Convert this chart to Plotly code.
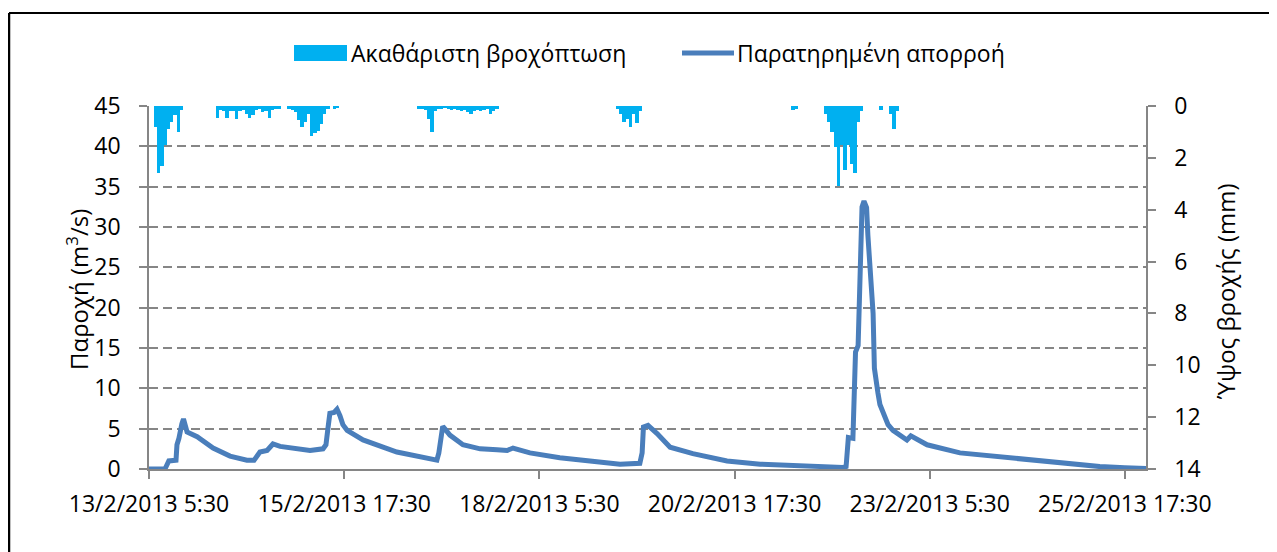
import pandas as pd
import plotly.graph_objects as go

# ---- data (hours after 13/2/2013 5:30) ----
START = pd.Timestamp("2013-02-13 05:30")
END_HOURS = 306.5

flow_hours = [0, 4.9, 5.5, 6.1, 8.3, 8.6, 9.2, 9.5, 10.1, 10.6, 11.1, 11.7, 14.8, 19.7, 24.9,
              30.1, 32.3, 34.1, 36.3, 38.1, 40.3, 44.3, 46.4, 49.5, 53.5, 54.4, 55.0, 55.6,
              56.9, 57.8, 58.7, 59.6, 60.9, 65.8, 76.2, 86.4, 88.5, 89.1, 89.7, 90.3, 90.9,
              92.5, 96.5, 101.8, 107.0, 110.1, 111.9, 117.1, 126.3, 135.6, 144.8, 150.9,
              151.6, 152.0, 153.4, 156.2, 160.2, 167.2, 177.7, 187.9, 198.0, 213.3, 214.3,
              214.6, 215.0, 216.4, 216.7, 217.2, 218.0, 218.6, 219.2, 219.8, 220.6, 221.0,
              221.6, 222.6, 223.0, 223.5, 224.1, 224.7, 225.7, 227.2, 228.7, 230.9, 233.0,
              234.2, 235.8, 239.2, 249.3, 261.6, 277.0, 292.3, 300.0, 306.5]
flow_values = [0, 0, 0.5, 1.0, 1.1, 3.0, 3.8, 4.8, 5.6, 6.2, 5.5, 4.6, 4.0, 2.6, 1.6,
               1.1, 1.1, 2.1, 2.3, 3.1, 2.8, 2.6, 2.5, 2.3, 2.5, 3.0, 5.0, 6.9,
               7.0, 7.4, 6.6, 5.5, 4.8, 3.6, 2.1, 1.2, 1.1, 2.0, 3.5, 5.3, 5.0,
               4.2, 3.0, 2.5, 2.4, 2.3, 2.6, 2.0, 1.4, 1.0, 0.6, 0.7,
               2.0, 5.2, 5.4, 4.4, 2.7, 1.9, 1.0, 0.6, 0.4, 0.2, 0.3,
               3.0, 3.9, 3.8, 8.0, 14.5, 15.3, 25.0, 32.5, 33.2, 32.4, 29.0,
               25.5, 19.3, 12.5, 10.5, 9.4, 8.0, 6.9, 5.5, 4.8, 4.2, 3.6,
               4.1, 3.8, 3.0, 2.0, 1.5, 0.8, 0.3, 0.15, 0.05]

rain_hours = [2, 3, 4, 5, 6, 7, 8, 9, 10,
              21, 22, 23, 24, 25, 26, 27, 28, 29, 30, 31, 32, 33, 34, 35, 36, 37, 38, 39, 40,
              43, 44, 45, 46, 47, 48, 49, 50, 51, 52, 53, 54, 55, 57, 58,
              83, 84, 85, 86, 87, 88, 89, 90, 91, 92, 93, 94, 95, 96, 97, 98, 99, 100,
              101, 102, 103, 104, 105, 106, 107,
              144, 145, 146, 147, 148, 149, 150, 151,
              198, 199,
              208, 209, 210, 211, 212, 213, 214, 215, 216, 217, 218, 219,
              225, 228, 229, 230]
rain_mm = [0.8, 2.6, 2.3, 1.5, 0.9, 0.6, 0.35, 1.0, 0.15,
           0.45, 0.15, 0.2, 0.45, 0.2, 0.2, 0.5, 0.2, 0.15, 0.3, 0.45, 0.35, 0.15, 0.1, 0.25,
           0.2, 0.45, 0.15, 0.1, 0.1,
           0.1, 0.15, 0.25, 0.55, 0.8, 0.6, 0.3, 1.15, 1.05, 0.95, 0.7, 0.3, 0.1, 0.1, 0.05,
           0.1, 0.1, 0.15, 0.5, 1.0, 0.2, 0.1, 0.1, 0.05, 0.1, 0.15, 0.1, 0.15, 0.2, 0.15,
           0.25, 0.3, 0.2, 0.15, 0.2, 0.15, 0.1, 0.3, 0.2, 0.1,
           0.1, 0.3, 0.6, 0.5, 0.8, 0.3, 0.65, 0.2,
           0.15, 0.1,
           0.3, 0.6, 1.0, 1.6, 3.1, 1.5, 2.45, 1.5, 2.25, 2.6, 0.6, 0.2,
           0.15, 0.3, 0.9, 0.2]

tick_hours = [0, 60, 120, 180, 240, 300]
tick_labels = ["13/2/2013 5:30", "15/2/2013 17:30", "18/2/2013 5:30",
               "20/2/2013 17:30", "23/2/2013 5:30", "25/2/2013 17:30"]

rain_name = "Ακαθάριστη βροχόπτωση"
flow_name = "Παρατηρημένη απορροή"
y_title = "Παροχή (m<sup>3</sup>/s)"
y2_title = "Ύψος βροχής (mm)"

# ---- figure ----
def to_time(h):
    return [START + pd.Timedelta(hours=v) for v in h]

FONT = "Open Sans, Noto Sans, sans-serif"
FS = 23
GRID = "#868686"
RAIN_C = "#00B0F0"
FLOW_C = "#4A7EBB"

fig = go.Figure()
fig.add_trace(go.Scatter(x=to_time(flow_hours), y=flow_values, mode="lines", name=flow_name,
                         line=dict(color=FLOW_C, width=5), yaxis="y", showlegend=False))
fig.add_trace(go.Bar(x=to_time(rain_hours), y=rain_mm, name=rain_name, yaxis="y2",
                     width=3600 * 1000, marker=dict(color=RAIN_C, line=dict(width=0)),
                     showlegend=False))

# page-pixel layout (page body has an 8px offset)
OFF = 8
L, R, T, B = 149, 1146, 106, 469
W, H = 1277 - OFF, 552 - OFF
pw, ph = R - L, B - T

def px(x):
    return (x - L) / pw

def py(y):
    return (B - y) / ph

fig.update_layout(
    width=W, height=H,
    margin=dict(l=L - OFF, r=W - (R - OFF), t=T - OFF, b=H - (B - OFF), autoexpand=False),
    paper_bgcolor="white", plot_bgcolor="white",
    font=dict(family=FONT, size=FS, color="black"),
    bargap=0,
    xaxis=dict(type="date", range=[START, START + pd.Timedelta(hours=END_HOURS)],
               tickvals=to_time(tick_hours), ticktext=tick_labels,
               showline=True, linecolor=GRID, linewidth=1.5,
               ticks="outside", ticklen=8, tickcolor=GRID, tickwidth=1.5,
               showgrid=False, zeroline=False, ticklabelstandoff=6),
    yaxis=dict(range=[0, 45], dtick=5, tick0=0,
               showline=True, linecolor=GRID, linewidth=1.5,
               ticks="outside", ticklen=8, tickcolor=GRID, tickwidth=1.5,
               showgrid=True, gridcolor=GRID, gridwidth=1.5, griddash="9px,5px",
               zeroline=False, ticklabelstandoff=14),
    yaxis2=dict(range=[14, 0], dtick=2, tick0=0, overlaying="y", side="right",
                showline=True, linecolor=GRID, linewidth=1.5,
                ticks="outside", ticklen=8, tickcolor=GRID, tickwidth=1.5,
                showgrid=False, zeroline=False, ticklabelstandoff=14),
)

# axis titles
fig.add_annotation(text=y_title, xref="paper", yref="paper", x=px(77), y=py(290),
                   textangle=-90, showarrow=False, xanchor="center", yanchor="middle",
                   font=dict(size=24))
fig.add_annotation(text=y2_title, xref="paper", yref="paper", x=px(1225), y=py(292),
                   textangle=-90, showarrow=False, xanchor="center", yanchor="middle",
                   font=dict(size=24))

# legend (drawn)
fig.add_shape(type="rect", xref="paper", yref="paper", x0=px(294), x1=px(347),
              y0=py(61), y1=py(45), fillcolor=RAIN_C, line=dict(width=0))
fig.add_annotation(text=rain_name, xref="paper", yref="paper", x=px(349), y=py(53),
                   xanchor="left", yanchor="middle", showarrow=False)
fig.add_shape(type="line", xref="paper", yref="paper", x0=px(682), x1=px(734),
              y0=py(53), y1=py(53), line=dict(color=FLOW_C, width=5))
fig.add_annotation(text=flow_name, xref="paper", yref="paper", x=px(735), y=py(53),
                   xanchor="left", yanchor="middle", showarrow=False)

# chart frame (partial border)
fig.add_shape(type="line", xref="paper", yref="paper", x0=px(9), x1=px(1273),
              y0=py(13), y1=py(13), line=dict(color="black", width=2))
fig.add_shape(type="line", xref="paper", yref="paper", x0=px(9), x1=px(9),
              y0=py(13), y1=py(552), line=dict(color="black", width=2.5))

fig.write_html("out.html")
